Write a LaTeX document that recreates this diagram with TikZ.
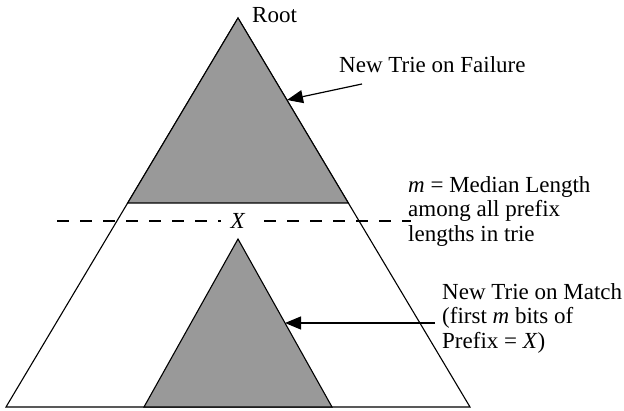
\documentclass[tikz,border=0pt]{standalone}
\usepackage{fontspec}
\setmainfont{Liberation Serif}
\usetikzlibrary{arrows.meta}

\begin{document}
\begin{tikzpicture}[x=1pt, y=1pt,
  trie/.style={fill=black!40, draw=black, line width=1.1pt},
  pointer/.style={-{Triangle[length=16pt,width=13pt]}, line width=1.2pt},
  lbl/.style={inner sep=0pt, align=left, font=\fontsize{23}{24.5}\selectfont}]
  \useasboundingbox (0,0) rectangle (624,411);

  % Whole trie
  \coordinate (A) at (238,393);
  \coordinate (B) at (6,4);
  \coordinate (C) at (470,4);
  \draw[line width=1.1pt] (A) -- (B) -- (C) -- cycle;

  % New trie on failure
  \coordinate (D) at (127.7,208);
  \coordinate (E) at (348.3,208);
  \draw[trie] (A) -- (D) -- (E) -- cycle;

  % New trie on match
  \coordinate (M) at (238,172);
  \coordinate (P) at (144,4);
  \coordinate (Q) at (332,4);
  \draw[trie] (M) -- (P) -- (Q) -- cycle;

  % Median length
  \coordinate (G) at (57,190);
  \coordinate (H) at (411,190);
  \draw[line width=1.2pt, dash pattern=on 12pt off 11pt] (G) -- (H);
  \node[lbl, fill=white, inner xsep=10pt, inner ysep=2pt] (x) at (238,190) {\textit{X}};

  % Labels
  \node[lbl, anchor=base west] (root) at (252,388) {Root};
  \node[lbl, anchor=base west] (fail) at (339,338) {New Trie on Failure};
  \node[lbl, anchor=north west] (median) at (408,235) {\textit{m} = Median Length\\among all prefix\\lengths in trie};
  \node[lbl, anchor=north west] (match) at (442,128) {New Trie on Match\\(first \textit{m} bits of\\Prefix = \textit{X})};

  % Pointers
  \coordinate (F) at (362,327);
  \coordinate (S) at (287,311);
  \draw[pointer] (F) -- (S);
  \coordinate (T) at (435,88);
  \coordinate (U) at (285,88);
  \draw[pointer] (T) -- (U);
\end{tikzpicture}
\end{document}
